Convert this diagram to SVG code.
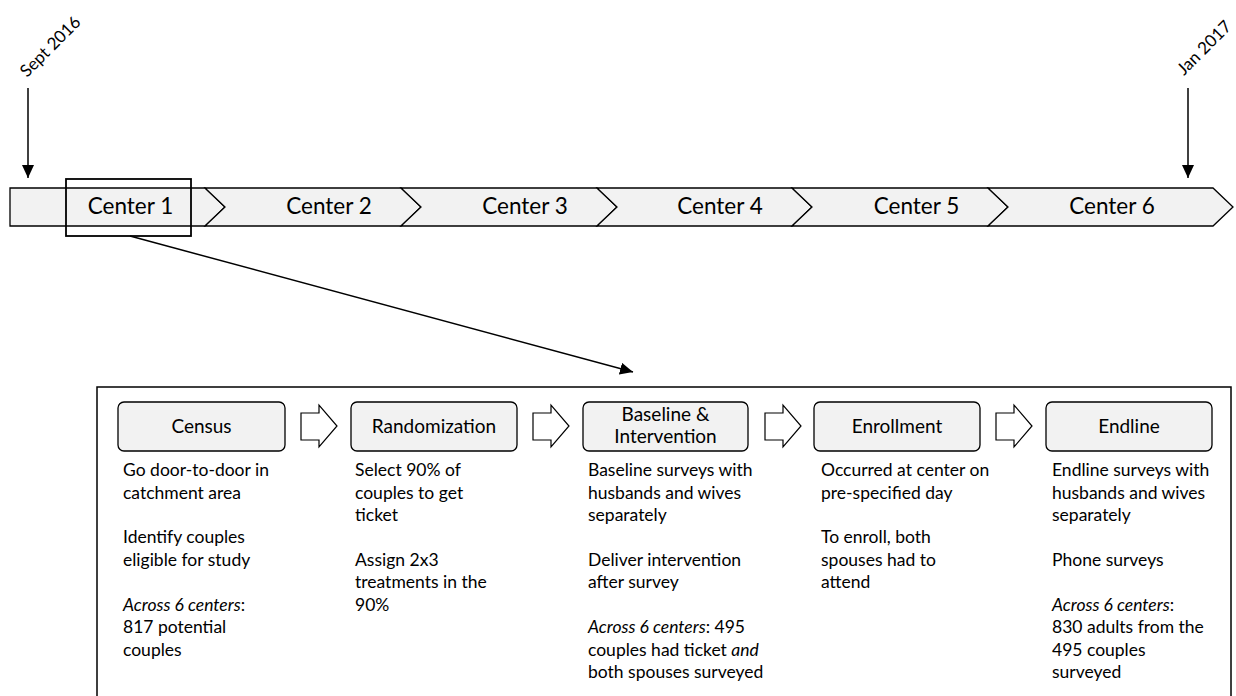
<svg xmlns="http://www.w3.org/2000/svg" width="1236" height="696" viewBox="0 0 1236 696">
<style>
text{font-family:Lato,"Liberation Sans",sans-serif;fill:#000}
.seg{fill:#f2f2f2;stroke:#000;stroke-width:1.3}
.ctr{font-size:22.5px;text-anchor:middle}
.date{font-size:17px}
.stage{fill:#f2f2f2;stroke:#000;stroke-width:1.3}
.title{font-size:19px;text-anchor:middle}
.body{font-size:17.5px}
.barrow{fill:#fff;stroke:#000;stroke-width:1.2}
.conn{stroke:#000;stroke-width:1.5;fill:none}
.it{font-style:italic}
</style>
<defs>
<marker id="ah" markerUnits="userSpaceOnUse" markerWidth="14" markerHeight="12" refX="13" refY="6" orient="auto">
<path d="M0,0 L13,6 L0,12 Z" fill="#000"/>
</marker>
</defs>

<g id="timeline">
<polygon class="seg" points="10,188 205,188 225,207 205,226 10,226"/>
<polygon class="seg" points="205,188 401,188 421,207 401,226 205,226 225,207"/>
<polygon class="seg" points="401,188 597,188 617,207 597,226 401,226 421,207"/>
<polygon class="seg" points="597,188 792,188 812,207 792,226 597,226 617,207"/>
<polygon class="seg" points="792,188 988,188 1008,207 988,226 792,226 812,207"/>
<polygon class="seg" points="988,188 1213,188 1233,207 1213,226 988,226 1008,207"/>
</g>
<g id="center1"><text class="ctr" x="130.5" y="214">Center 1</text></g>
<g id="center2"><text class="ctr" x="329" y="214">Center 2</text></g>
<g id="center3"><text class="ctr" x="525" y="214">Center 3</text></g>
<g id="center4"><text class="ctr" x="720" y="214">Center 4</text></g>
<g id="center5"><text class="ctr" x="916.5" y="214">Center 5</text></g>
<g id="center6"><text class="ctr" x="1112" y="214">Center 6</text></g>
<g id="highlight"><rect x="66" y="179" width="125" height="57" fill="none" stroke="#000" stroke-width="1.8"/></g>

<g id="date-start"><text class="date" transform="translate(27,78) rotate(-45)">Sept 2016</text></g>
<g id="date-end"><text class="date" transform="translate(1184,76) rotate(-45)">Jan 2017</text></g>

<g id="connectors">
<line class="conn" x1="28" y1="88" x2="28" y2="178" marker-end="url(#ah)"/>
<line class="conn" x1="1188" y1="88" x2="1188" y2="178" marker-end="url(#ah)"/>
<line class="conn" x1="130" y1="236" x2="633" y2="372" marker-end="url(#ah)"/>
<polygon class="barrow" points="301,413 319,413 319,405 337,426 319,447 319,440 301,440"/>
<polygon class="barrow" points="533,413 551,413 551,405 569,426 551,447 551,440 533,440"/>
<polygon class="barrow" points="765,413 783,413 783,405 801,426 783,447 783,440 765,440"/>
<polygon class="barrow" points="996,413 1014,413 1014,405 1032,426 1014,447 1014,440 996,440"/>
</g>

<g id="detail-panel"><rect x="97" y="387" width="1134" height="320" fill="none" stroke="#000" stroke-width="1.5"/></g>

<g id="census">
<rect class="stage" x="118" y="402" width="167" height="49" rx="6"/>
<text class="title" x="201.5" y="433">Census</text>
<text class="body" x="123" y="476">Go door-to-door in</text>
<text class="body" x="123" y="498.5">catchment area</text>
<text class="body" x="123" y="543">Identify couples</text>
<text class="body" x="123" y="565.5">eligible for study</text>
<text class="body" x="123" y="610.5"><tspan class="it">Across 6 centers</tspan>:</text>
<text class="body" x="123" y="633">817 potential</text>
<text class="body" x="123" y="655.5">couples</text>
</g>

<g id="randomization">
<rect class="stage" x="351" y="402" width="166" height="49" rx="6"/>
<text class="title" x="434" y="433">Randomization</text>
<text class="body" x="355" y="476">Select 90% of</text>
<text class="body" x="355" y="498.5">couples to get</text>
<text class="body" x="355" y="521">ticket</text>
<text class="body" x="355" y="565.5">Assign 2x3</text>
<text class="body" x="355" y="588">treatments in the</text>
<text class="body" x="355" y="610.5">90%</text>
</g>

<g id="baseline">
<rect class="stage" x="583" y="402" width="165" height="49" rx="6"/>
<text class="title" x="665.5" y="421">Baseline &amp;</text>
<text class="title" x="665.5" y="443">Intervention</text>
<text class="body" x="588" y="476">Baseline surveys with</text>
<text class="body" x="588" y="498.5">husbands and wives</text>
<text class="body" x="588" y="521">separately</text>
<text class="body" x="588" y="565.5">Deliver intervention</text>
<text class="body" x="588" y="588">after survey</text>
<text class="body" x="588" y="633"><tspan class="it">Across 6 centers</tspan>: 495</text>
<text class="body" x="588" y="655.5">couples had ticket <tspan class="it">and</tspan></text>
<text class="body" x="588" y="678">both spouses surveyed</text>
</g>

<g id="enrollment">
<rect class="stage" x="814" y="402" width="166" height="49" rx="6"/>
<text class="title" x="897" y="433">Enrollment</text>
<text class="body" x="821" y="476">Occurred at center on</text>
<text class="body" x="821" y="498.5">pre-specified day</text>
<text class="body" x="821" y="543">To enroll, both</text>
<text class="body" x="821" y="565.5">spouses had to</text>
<text class="body" x="821" y="588">attend</text>
</g>

<g id="endline">
<rect class="stage" x="1046" y="402" width="166" height="49" rx="6"/>
<text class="title" x="1129" y="433">Endline</text>
<text class="body" x="1052" y="476">Endline surveys with</text>
<text class="body" x="1052" y="498.5">husbands and wives</text>
<text class="body" x="1052" y="521">separately</text>
<text class="body" x="1052" y="565.5">Phone surveys</text>
<text class="body" x="1052" y="610.5"><tspan class="it">Across 6 centers</tspan>:</text>
<text class="body" x="1052" y="633">830 adults from the</text>
<text class="body" x="1052" y="655.5">495 couples</text>
<text class="body" x="1052" y="678">surveyed</text>
</g>
</svg>
